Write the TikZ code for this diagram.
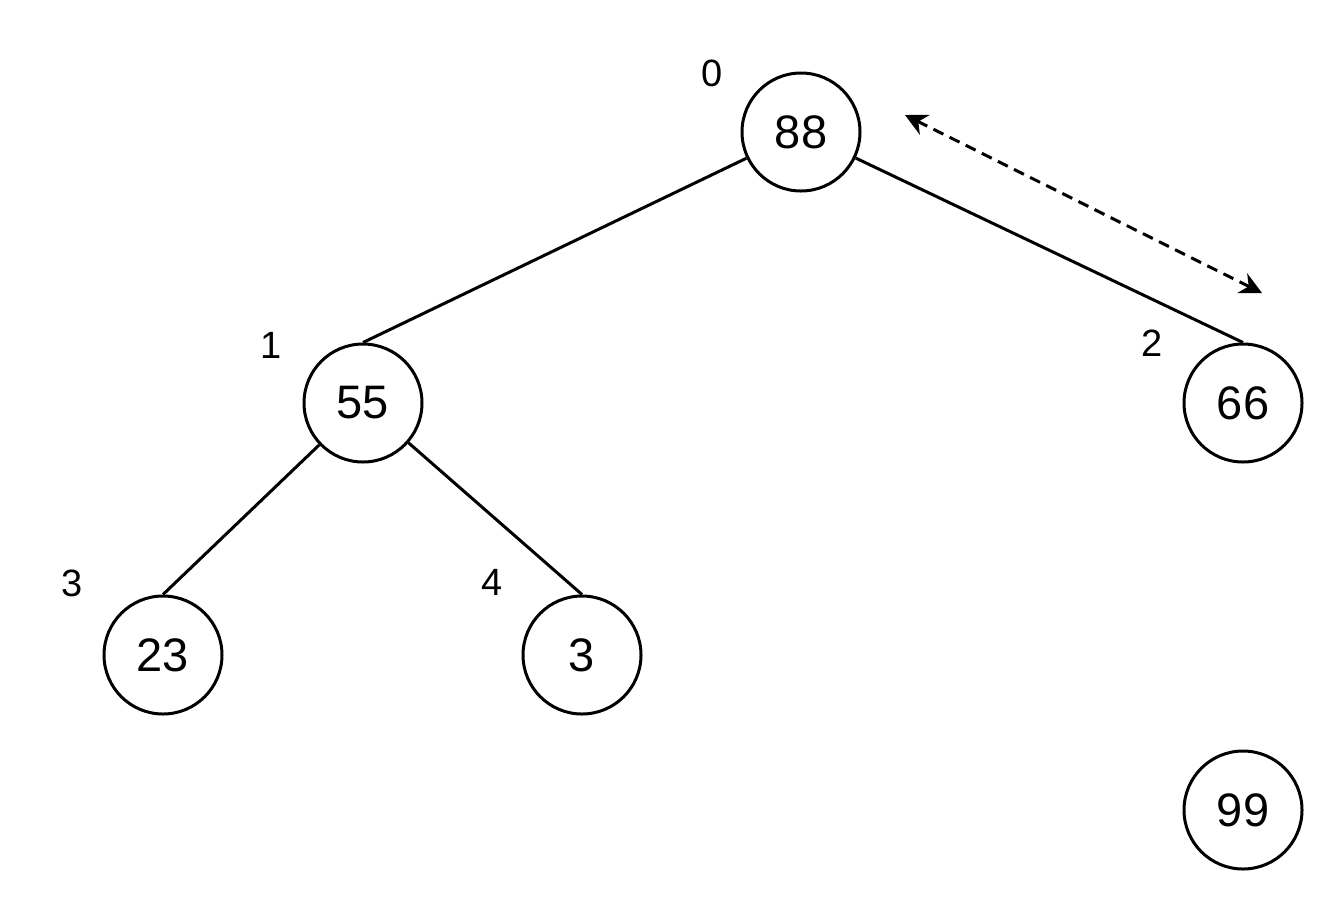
\documentclass[tikz,border=0pt]{standalone}
\usepackage{fontspec}
\setmainfont{Liberation Sans}
\usetikzlibrary{arrows.meta}
\begin{document}
\begin{tikzpicture}[x=1pt,y=-1pt,
  heapnode/.style={circle,draw,line width=3pt,minimum size=118pt,inner sep=0pt,font=\fontsize{47}{47}\selectfont},
  idx/.style={font=\fontsize{38}{38}\selectfont,inner sep=0pt},
  edge/.style={line width=3pt},
  swap/.style={line width=3pt,dash pattern=on 11pt off 7pt,{Stealth[length=22pt,width=22pt]}-{Stealth[length=22pt,width=22pt]}}]
\useasboundingbox (0,0) rectangle (1344,914);
\node[heapnode] (n88) at (801,132) {88};
\node[heapnode] (n55) at (363,403) {55};
\node[heapnode] (n66) at (1243,403) {66};
\node[heapnode] (n23) at (163,655) {23};
\node[heapnode] (n3) at (582,655) {3};
\node[heapnode] (n99) at (1243,810) {99};
\node[idx] (l0) at (712,73) {0};
\node[idx] (l1) at (271,345) {1};
\node[idx] (l2) at (1152,343) {2};
\node[idx] (l3) at (72,583) {3};
\node[idx] (l4) at (492,582) {4};
\draw[edge] (n88) -- (n55.north);
\draw[edge] (n88) -- (n66.north);
\draw[edge] (n55) -- (n23.north);
\draw[edge] (n55) -- (n3.north);
\coordinate (s1) at (905,115);
\coordinate (s2) at (1262,293);
\draw[swap] (s1) -- (s2);
\end{tikzpicture}
\end{document}
